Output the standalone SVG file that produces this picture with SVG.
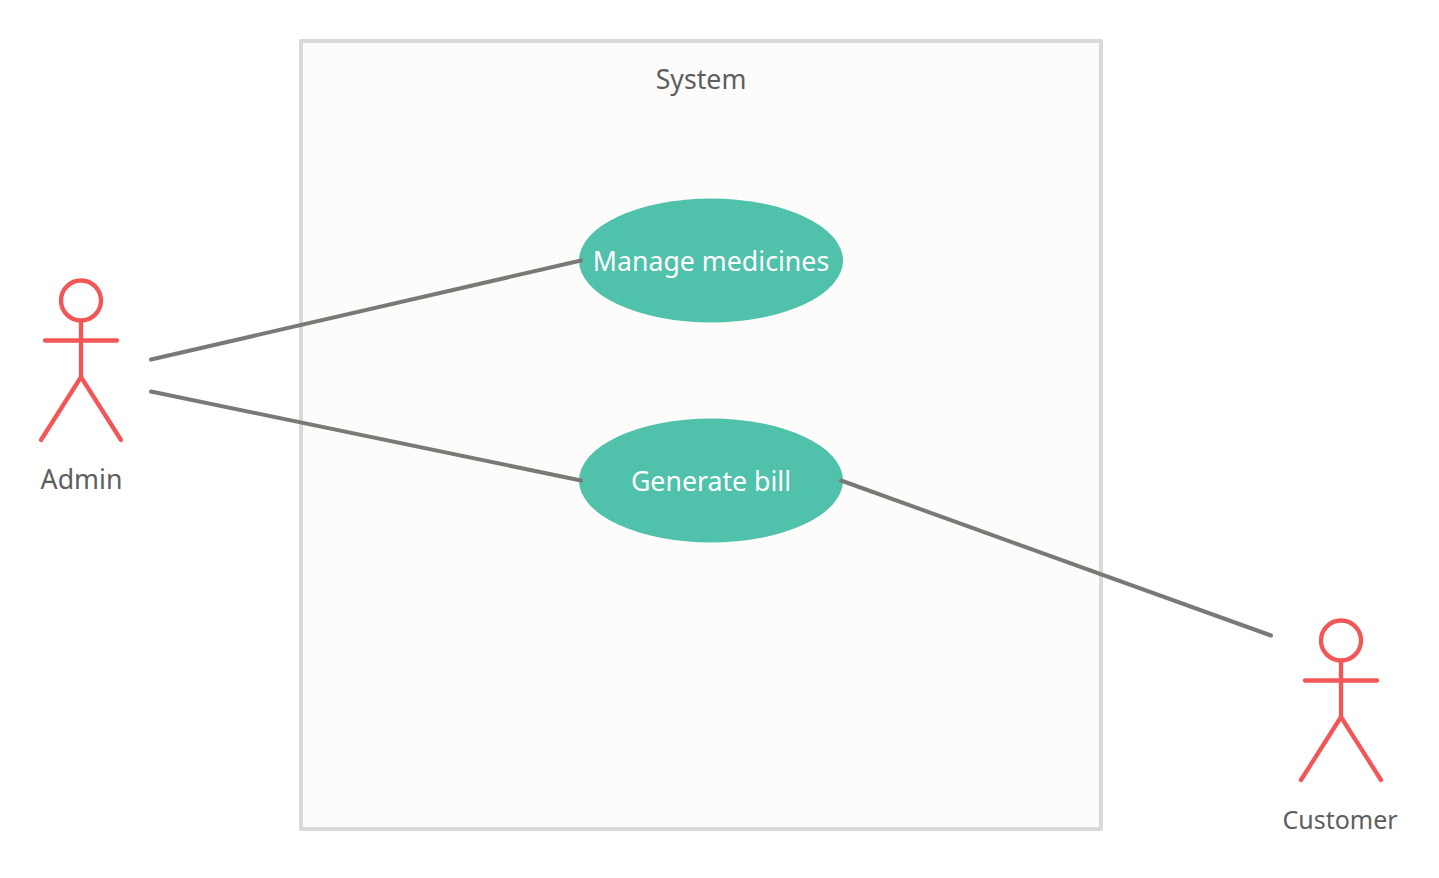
<svg xmlns="http://www.w3.org/2000/svg" width="1439" height="878" viewBox="0 0 1439 878">
<defs><style>
text{font-family:"Noto Sans","Open Sans",sans-serif;font-size:26.700px;text-anchor:middle}
.dark{fill:#5e5e5e}
.light{fill:#fff}
.actor{fill:none;stroke:#f25656;stroke-width:4.300;stroke-linecap:round;stroke-linejoin:round}
.conn{fill:none;stroke:#7b7976;stroke-width:4;stroke-linecap:round}
.uc{fill:#50c1ab}
</style></defs>
<rect width="1439" height="878" fill="#fff"/>
<g id="system"><rect x="301" y="41" width="800" height="788" fill="#fdfcfb" stroke="#d9d9d9" stroke-width="4" stroke-linejoin="round"/><text class="dark" x="701" y="89">System</text></g>
<g id="uc-manage"><ellipse class="uc" cx="711" cy="260.500" rx="132" ry="62"/><text class="light" x="711" y="271">Manage medicines</text></g>
<g id="uc-bill"><ellipse class="uc" cx="711" cy="480.500" rx="132" ry="62"/><text class="light" x="711" y="491">Generate bill</text></g>
<g id="actor-admin"><path class="actor" d="M81 321V377M45 340.500H117M41 440L81 377L121 440"/><circle class="actor" cx="81" cy="300.500" r="20"/><text class="dark" x="81.500" y="489">Admin</text></g>
<g id="actor-customer"><path class="actor" d="M1341 661V717M1305 680.500H1377M1301 780L1341 717L1381 780"/><circle class="actor" cx="1341" cy="640.500" r="20"/><text class="dark" x="1340" y="829" style="font-size:25px">Customer</text></g>
<g id="connectors">
<line class="conn" x1="151" y1="359.500" x2="581" y2="260.500"/>
<line class="conn" x1="151" y1="391.500" x2="581" y2="480.500"/>
<line class="conn" x1="841" y1="480.500" x2="1271" y2="635.500"/>
</g>
</svg>
